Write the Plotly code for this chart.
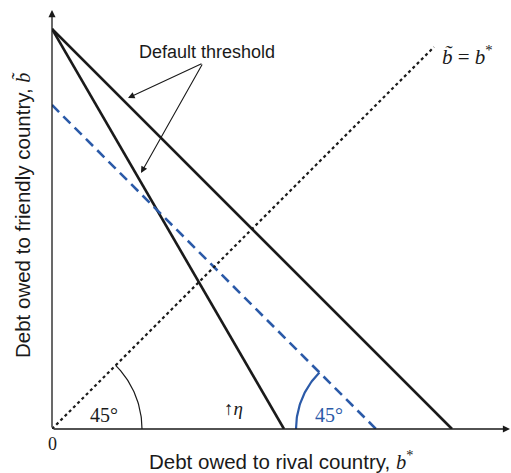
import numpy as np
import plotly.graph_objects as go

# Data (in units where the default-threshold vertex on the y axis = 1)
vertex_y = 1.0
threshold_x_intercepts = [1.0, 0.58]      # two "default threshold" lines
dashed_intercept = 0.81                    # blue dashed 45° line
diagonal_end = 0.955                       # b~ = b* line end
x_max, y_max = 1.145, 1.0475

BLUE = "#2b5aa8"
SERIF = "Liberation Serif"
SANS = "Liberation Sans"

fig = go.Figure()

# Default threshold lines
for xi in threshold_x_intercepts:
    fig.add_trace(go.Scatter(x=[0, xi], y=[vertex_y, 0], mode="lines",
                             line=dict(color="#1a1a1a", width=2.6), hoverinfo="skip"))

# Blue dashed line
fig.add_trace(go.Scatter(x=[0, dashed_intercept], y=[dashed_intercept, 0], mode="lines",
                         line=dict(color=BLUE, width=2.6, dash="10px,6px"), hoverinfo="skip"))

# Dotted 45° line
fig.add_trace(go.Scatter(x=[0, diagonal_end], y=[0, diagonal_end], mode="lines",
                         line=dict(color="#1a1a1a", width=2.2, dash="dot"), hoverinfo="skip"))

# Angle arcs
r1 = 0.225
t = np.linspace(0, np.pi / 4, 40)
fig.add_trace(go.Scatter(x=r1 * np.cos(t), y=r1 * np.sin(t), mode="lines",
                         line=dict(color="#1a1a1a", width=1.2), hoverinfo="skip"))
r2 = 0.2
t2 = np.linspace(3 * np.pi / 4, np.pi, 40)
fig.add_trace(go.Scatter(x=dashed_intercept + r2 * np.cos(t2), y=r2 * np.sin(t2), mode="lines",
                         line=dict(color=BLUE, width=2.2), hoverinfo="skip"))

ann = []
# Axes as arrows
ann.append(dict(x=x_max, y=0, ax=0, ay=0, xref="x", yref="y", axref="x", ayref="y",
                showarrow=True, arrowhead=2, arrowsize=1.1, arrowwidth=1.3, arrowcolor="#1a1a1a", text=""))
ann.append(dict(x=0, y=y_max, ax=0, ay=0, xref="x", yref="y", axref="x", ayref="y",
                showarrow=True, arrowhead=2, arrowsize=1.1, arrowwidth=1.3, arrowcolor="#1a1a1a", text=""))

# Default threshold label and arrows
ann.append(dict(x=0.3875, y=0.9425, xref="x", yref="y", text="Default threshold", showarrow=False,
                font=dict(family=SANS, size=18, color="#1a1a1a")))
for hx, hy in [(0.19, 0.8275), (0.2225, 0.64)]:
    ann.append(dict(x=hx, y=hy, ax=0.3775, ay=0.915, xref="x", yref="y", axref="x", ayref="y",
                    text="", showarrow=True, arrowhead=2, arrowsize=1.2, arrowwidth=1.1,
                    arrowcolor="#1a1a1a"))

# Diagonal label
ann.append(dict(x=0.97, y=0.935, xref="x", yref="y", xanchor="left",
                text="<i>b̃</i> = <i>b</i><sup>*</sup>", showarrow=False,
                font=dict(family=SERIF, size=21, color="#1a1a1a")))

# Angle labels
ann.append(dict(x=0.13, y=0.035, xref="x", yref="y", text="45°", showarrow=False,
                font=dict(family=SERIF, size=20, color="#1a1a1a")))
ann.append(dict(x=0.6925, y=0.035, xref="x", yref="y", text="45°", showarrow=False,
                font=dict(family=SERIF, size=20, color=BLUE)))
ann.append(dict(x=0.4525, y=0.0525, xref="x", yref="y", text="↑<i>η</i>", showarrow=False,
                font=dict(family=SERIF, size=19, color="#1a1a1a")))
ann.append(dict(x=0, y=0, xref="x", yref="y", yshift=-15, text="0", showarrow=False,
                font=dict(family=SERIF, size=18, color="#1a1a1a")))

# Axis titles
ann.append(dict(x=(281 - 52) / 458, y=0, xref="paper", yref="paper", yshift=-31, yanchor="middle",
                text="Debt owed to rival country, <span style='font-family:Liberation Serif'><i>b</i><sup>*</sup></span>",
                showarrow=False, font=dict(family=SANS, size=20.5, color="#1a1a1a")))
ann.append(dict(x=0, y=(429 - 215) / 419, xref="paper", yref="paper", xshift=-30, xanchor="center", yanchor="middle",
                textangle=-90,
                text="Debt owed to friendly country, <span style='font-family:Liberation Serif'><i>b̃</i></span>",
                showarrow=False, font=dict(family=SANS, size=20.5, color="#1a1a1a")))

fig.update_layout(
    width=511, height=473,
    margin=dict(l=52, r=1, t=10, b=44),
    paper_bgcolor="white", plot_bgcolor="white",
    showlegend=False,
    xaxis=dict(range=[0, x_max], visible=False, fixedrange=True),
    yaxis=dict(range=[0, y_max], visible=False, fixedrange=True),
    annotations=ann,
)

fig.write_html("out.html", config={"displayModeBar": False},
               post_script="document.body.style.margin='0';document.body.style.overflow='hidden';")
